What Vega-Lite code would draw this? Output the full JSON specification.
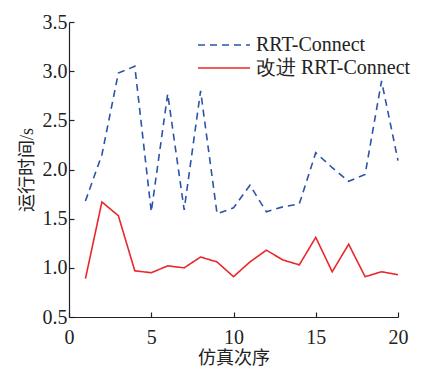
{
  "$schema": "https://vega.github.io/schema/vega-lite/v6.json",
  "width": 329,
  "height": 295,
  "autosize": {"type": "none"},
  "padding": {"left": 69, "top": 22, "right": 27, "bottom": 49},
  "background": "white",
  "config": {
    "view": {"stroke": null},
    "font": "Liberation Serif, DejaVu Serif, serif",
    "axis": {"grid": false, "domainColor": "#222", "tickColor": "#222", "labelColor": "#222", "titleColor": "#222", "labelFont": "Liberation Serif, DejaVu Serif, serif", "titleFont": "Liberation Serif, Noto Sans CJK SC, serif", "labelFontSize": 20, "titleFontSize": 18, "titleFontWeight": "normal", "domainWidth": 1.2, "tickWidth": 1.2},
    "legend": {"labelFont": "Liberation Serif, DejaVu Serif, serif"}
  },
  "data": {
    "values": [
      {"x": 1, "s": "RRT-Connect", "y": 1.68},
      {"x": 2, "s": "RRT-Connect", "y": 2.15},
      {"x": 3, "s": "RRT-Connect", "y": 2.98},
      {"x": 4, "s": "RRT-Connect", "y": 3.05},
      {"x": 5, "s": "RRT-Connect", "y": 1.57},
      {"x": 6, "s": "RRT-Connect", "y": 2.77},
      {"x": 7, "s": "RRT-Connect", "y": 1.59},
      {"x": 8, "s": "RRT-Connect", "y": 2.8},
      {"x": 9, "s": "RRT-Connect", "y": 1.55},
      {"x": 10, "s": "RRT-Connect", "y": 1.61},
      {"x": 11, "s": "RRT-Connect", "y": 1.84},
      {"x": 12, "s": "RRT-Connect", "y": 1.57},
      {"x": 13, "s": "RRT-Connect", "y": 1.62},
      {"x": 14, "s": "RRT-Connect", "y": 1.65},
      {"x": 15, "s": "RRT-Connect", "y": 2.17},
      {"x": 16, "s": "RRT-Connect", "y": 2.02},
      {"x": 17, "s": "RRT-Connect", "y": 1.88},
      {"x": 18, "s": "RRT-Connect", "y": 1.95},
      {"x": 19, "s": "RRT-Connect", "y": 2.9},
      {"x": 20, "s": "RRT-Connect", "y": 2.09},
      {"x": 1, "s": "改进 RRT-Connect", "y": 0.89},
      {"x": 2, "s": "改进 RRT-Connect", "y": 1.67},
      {"x": 3, "s": "改进 RRT-Connect", "y": 1.53},
      {"x": 4, "s": "改进 RRT-Connect", "y": 0.97},
      {"x": 5, "s": "改进 RRT-Connect", "y": 0.95},
      {"x": 6, "s": "改进 RRT-Connect", "y": 1.02},
      {"x": 7, "s": "改进 RRT-Connect", "y": 1.0},
      {"x": 8, "s": "改进 RRT-Connect", "y": 1.11},
      {"x": 9, "s": "改进 RRT-Connect", "y": 1.06},
      {"x": 10, "s": "改进 RRT-Connect", "y": 0.91},
      {"x": 11, "s": "改进 RRT-Connect", "y": 1.06},
      {"x": 12, "s": "改进 RRT-Connect", "y": 1.18},
      {"x": 13, "s": "改进 RRT-Connect", "y": 1.08},
      {"x": 14, "s": "改进 RRT-Connect", "y": 1.03},
      {"x": 15, "s": "改进 RRT-Connect", "y": 1.31},
      {"x": 16, "s": "改进 RRT-Connect", "y": 0.96},
      {"x": 17, "s": "改进 RRT-Connect", "y": 1.24},
      {"x": 18, "s": "改进 RRT-Connect", "y": 0.91},
      {"x": 19, "s": "改进 RRT-Connect", "y": 0.96},
      {"x": 20, "s": "改进 RRT-Connect", "y": 0.93}
    ]
  },
  "mark": {"type": "line", "strokeWidth": 1.6},
  "encoding": {
    "x": {"field": "x", "type": "quantitative", "scale": {"domain": [0, 20], "nice": false}, "axis": {"values": [0, 5, 10, 15, 20], "title": "仿真次序", "tickSize": -5, "labelPadding": 15, "titlePadding": 2, "labelFlush": false}},
    "y": {"field": "y", "type": "quantitative", "scale": {"domain": [0.5, 3.5], "nice": false, "zero": false}, "axis": {"values": [0.5, 1, 1.5, 2, 2.5, 3, 3.5], "format": ".1f", "title": "运行时间/s", "tickSize": -5, "labelPadding": 7, "titlePadding": 6, "labelFlush": false}},
    "color": {"field": "s", "type": "nominal", "scale": {"domain": ["RRT-Connect", "改进 RRT-Connect"], "range": ["#2B54A8", "#E8282B"]}, "legend": {"title": null, "orient": "none", "legendX": 144, "legendY": 12, "symbolType": "M-2.6,0H2.6", "symbolSize": 400, "symbolStrokeWidth": 1.6, "labelFontSize": 20, "labelLimit": 300, "labelColor": "#222", "rowPadding": 2, "labelOffset": 21}},
    "strokeDash": {"field": "s", "type": "nominal", "scale": {"domain": ["RRT-Connect", "改进 RRT-Connect"], "range": [[7, 5], [1, 0]]}, "legend": null}
  }
}
